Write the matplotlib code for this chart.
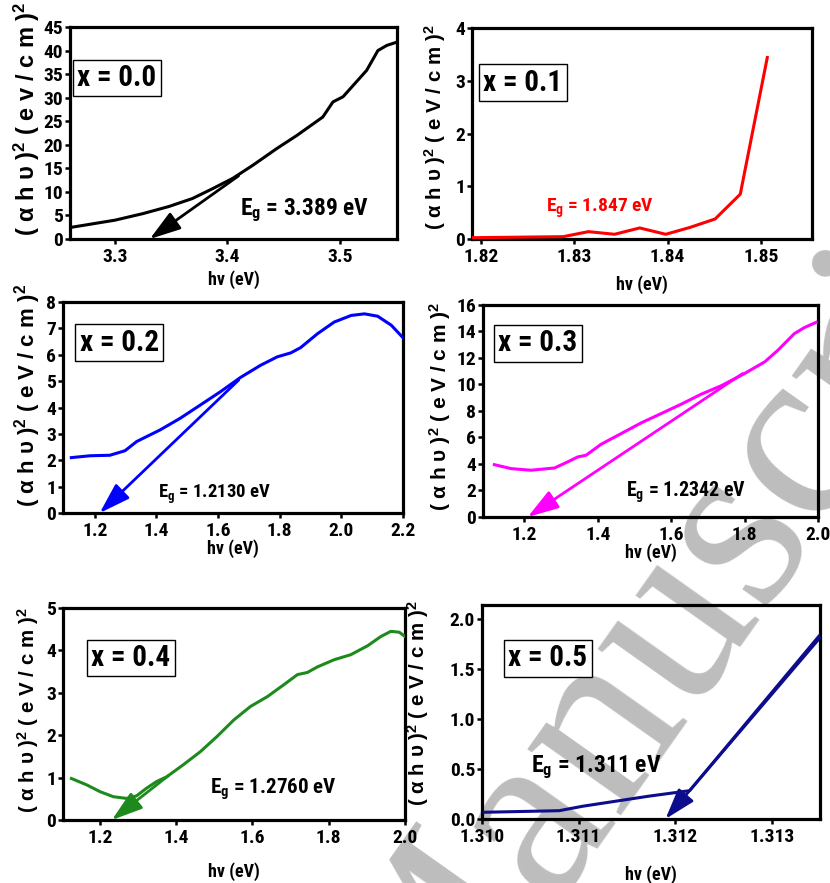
import matplotlib
matplotlib.use("Agg")
import matplotlib.pyplot as plt
from matplotlib.ticker import FormatStrFormatter

NARROW = ['Liberation Sans Narrow', 'Roboto Condensed', 'Open Sans Condensed',
          'Liberation Sans', 'DejaVu Sans']
plt.rcParams['font.family'] = NARROW
plt.rcParams['font.weight'] = 'bold'
plt.rcParams['mathtext.fontset'] = 'custom'
plt.rcParams['mathtext.rm'] = 'Liberation Sans:bold'
plt.rcParams['mathtext.it'] = 'Liberation Sans:bold'
plt.rcParams['mathtext.bf'] = 'Liberation Sans:bold'

# ---------------- data ----------------
# x = 0.0
hv_00 = [3.259, 3.300, 3.325, 3.348, 3.369, 3.387, 3.405, 3.423, 3.444, 3.462,
         3.485, 3.494, 3.503, 3.524, 3.534, 3.542, 3.551]
ah_00 = [2.4, 4.0, 5.4, 6.9, 8.6, 10.7, 12.9, 15.7, 19.2, 22.0,
         25.9, 29.1, 30.2, 35.8, 40.0, 41.1, 41.8]
tan_00 = ([3.410, 3.331], [13.4, 0.0])

# x = 0.1
hv_01 = [1.819, 1.8288, 1.8315, 1.8343, 1.8370, 1.8398, 1.8424, 1.8451, 1.8478, 1.8507]
ah_01 = [0.025, 0.045, 0.14, 0.09, 0.21, 0.09, 0.22, 0.38, 0.85, 3.44]

# x = 0.2
hv_02 = [1.124, 1.184, 1.249, 1.298, 1.336, 1.412, 1.477, 1.542, 1.608, 1.673,
         1.738, 1.792, 1.836, 1.868, 1.923, 1.977, 2.032, 2.075, 2.118, 2.162, 2.203]
ah_02 = [2.10, 2.17, 2.19, 2.36, 2.71, 3.15, 3.59, 4.09, 4.60, 5.14,
         5.60, 5.92, 6.07, 6.27, 6.80, 7.24, 7.49, 7.55, 7.46, 7.12, 6.61]
tan_02 = ([1.667, 1.216], [5.04, 0.0])

# x = 0.3
hv_03 = [1.118, 1.164, 1.218, 1.282, 1.318, 1.345, 1.368, 1.409, 1.464, 1.518,
         1.573, 1.627, 1.682, 1.736, 1.800, 1.855, 1.891, 1.936, 1.964, 1.995]
ah_03 = [3.95, 3.65, 3.53, 3.70, 4.16, 4.53, 4.66, 5.49, 6.30, 7.10,
         7.81, 8.51, 9.27, 9.90, 10.83, 11.71, 12.59, 13.85, 14.31, 14.69]
tan_03 = ([1.795, 1.209], [10.83, 0.0])

# x = 0.4
hv_04 = [1.125, 1.165, 1.200, 1.235, 1.270, 1.296, 1.322, 1.349, 1.375, 1.418,
         1.463, 1.507, 1.551, 1.595, 1.639, 1.682, 1.718, 1.744, 1.770, 1.814,
         1.858, 1.902, 1.937, 1.963, 1.985, 2.003]
ah_04 = [0.98, 0.83, 0.67, 0.55, 0.51, 0.57, 0.75, 0.91, 1.02, 1.30,
         1.61, 1.97, 2.36, 2.68, 2.91, 3.19, 3.43, 3.48, 3.61, 3.78,
         3.90, 4.11, 4.33, 4.45, 4.43, 4.31]
tan_04 = ([1.380, 1.231], [1.05, 0.0])

# x = 0.5
hv_05 = [1.31002, 1.3108, 1.31104, 1.31138, 1.31172, 1.31215, 1.3135]
ah_05 = [0.067, 0.083, 0.127, 0.177, 0.227, 0.283, 1.84]
tan_05 = ([1.3135, 1.3119], [1.81, 0.0])

labels = ["x = 0.0", "x = 0.1", "x = 0.2", "x = 0.3", "x = 0.4", "x = 0.5"]
eg_texts = ["3.389", "1.847", "1.2130", "1.2342", "1.2760", "1.311"]

# ---------------- figure ----------------
fig = plt.figure(figsize=(8.3, 8.83), dpi=100)
fig.patch.set_facecolor('white')

# watermark
fig.text(0.51, -0.229, "Manuscript", fontsize=180, family='Liberation Serif',
         fontweight='normal', color='#bdbdbd', rotation=54.7,
         rotation_mode='anchor', ha='left', va='baseline', zorder=-10)


def panel(rect, hv, ah, color, xlim, ylim, xticks, yticks, xfmt, yfmt,
          label, label_pos, eg, eg_pos, eg_size, eg_color, tan, ylab,
          ylab_pos, ylab_size, xlab_y, lw=2.2):
    ax = fig.add_axes(rect)
    ax.set_facecolor('none')
    ax.plot(hv, ah, color=color, lw=lw, solid_joinstyle='round', zorder=3)
    if tan is not None:
        ax.annotate("", xy=(tan[0][1], tan[1][1]), xytext=(tan[0][0], tan[1][0]),
                    arrowprops=dict(arrowstyle='-|>,head_length=1.0,head_width=0.32',
                                    color=color, lw=2.0, shrinkA=0, shrinkB=0,
                                    mutation_scale=19),
                    annotation_clip=False, zorder=3)
    ax.set_xlim(*xlim)
    ax.set_ylim(*ylim)
    ax.set_xticks(xticks)
    ax.set_yticks(yticks)
    ax.xaxis.set_major_formatter(FormatStrFormatter(xfmt))
    ax.yaxis.set_major_formatter(FormatStrFormatter(yfmt))
    for s in ax.spines.values():
        s.set_linewidth(2.3)
    ax.tick_params(direction='out', length=3.5, width=1.8, labelsize=14,
                   pad=1.5)
    ax.tick_params(axis='x', pad=3)
    for t in ax.get_xticklabels() + ax.get_yticklabels():
        t.set_fontweight('bold')
    ax.text(label_pos[0], label_pos[1], label, transform=ax.transAxes,
            fontsize=21, fontweight='bold', ha='center', va='center',
            bbox=dict(boxstyle='square,pad=0.15', fc='white', ec='black', lw=1.0),
            zorder=5)
    ax.text(eg_pos[0], eg_pos[1], r"E$_{\mathregular{g}}$ = " + eg + " eV",
            transform=ax.transAxes, fontsize=eg_size, fontweight='bold',
            color=eg_color, ha='center', va='baseline', zorder=5)
    ax.text(ylab_pos[0], ylab_pos[1], ylab, transform=ax.transAxes,
            rotation=90, ha='center', va='center', fontsize=ylab_size,
            fontweight='bold', family=['Liberation Sans', 'DejaVu Sans'])
    ax.set_xlabel("hv (eV)", fontsize=13, fontweight='bold')
    ax.xaxis.set_label_coords(0.5, xlab_y)
    return ax


ylab_v = r"( α h υ )$^{\mathbf{2}}$ ( e v / c m )$^{\mathbf{2}}$"
ylab_V = r"( α h υ )$^{\mathbf{2}}$ ( e V / c m )$^{\mathbf{2}}$"

panel([0.0843, 0.7293, 0.3940, 0.2401], hv_00, ah_00, 'black',
      (3.26, 3.551), (0, 45), [3.3, 3.4, 3.5], list(range(0, 46, 5)),
      '%.1f', '%d', labels[0], (0.144, 0.76), eg_texts[0], (0.717, 0.113), 16.8,
      'black', tan_00, ylab_v, (-0.131, 0.566), 17, -0.145)

panel([0.5687, 0.7293, 0.4096, 0.2390], hv_01, ah_01, 'red',
      (1.819, 1.8555), (0, 4), [1.82, 1.83, 1.84, 1.85], [0, 1, 2, 3, 4],
      '%.2f', '%d', labels[1], (0.15, 0.74), eg_texts[1], (0.376, 0.128), 14,
      'red', None, ylab_V, (-0.109, 0.53), 14.8, -0.17)

panel([0.0759, 0.4190, 0.4096, 0.2390], hv_02, ah_02, 'blue',
      (1.097, 2.2), (0, 8), [1.2, 1.4, 1.6, 1.8, 2.0, 2.2], list(range(0, 9)),
      '%.1f', '%d', labels[2], (0.165, 0.808), eg_texts[2], (0.446, 0.071), 13.4,
      'black', tan_02, ylab_V, (-0.103, 0.555), 16, -0.122)

panel([0.5819, 0.4145, 0.4036, 0.2401], hv_03, ah_03, 'magenta',
      (1.087, 2.0), (0, 16), [1.2, 1.4, 1.6, 1.8, 2.0], list(range(0, 17, 2)),
      '%.1f', '%d', labels[3], (0.163, 0.82), eg_texts[3], (0.607, 0.094), 14.3,
      'black', tan_03, ylab_V, (-0.127, 0.52), 15, -0.126)

panel([0.0759, 0.0713, 0.4120, 0.2401], hv_04, ah_04, '#1e8a1e',
      (1.103, 2.0), (0, 5), [1.2, 1.4, 1.6, 1.8, 2.0], list(range(0, 6)),
      '%.1f', '%d', labels[4], (0.199, 0.764), eg_texts[4], (0.615, 0.123), 15.1,
      'black', tan_04, ylab_V, (-0.102, 0.52), 14.8, -0.197)

panel([0.5807, 0.0725, 0.4072, 0.2424], hv_05, ah_05, '#0c0c8c',
      (1.3100, 1.3135), (0, 2.14), [1.310, 1.311, 1.312, 1.313],
      [0.0, 0.5, 1.0, 1.5, 2.0],
      '%.3f', '%.1f', labels[5], (0.195, 0.75), eg_texts[5], (0.339, 0.22), 17,
      'black', tan_05, ylab_V, (-0.189, 0.54), 14.8, -0.214)

fig.savefig("out.png", dpi=100)
